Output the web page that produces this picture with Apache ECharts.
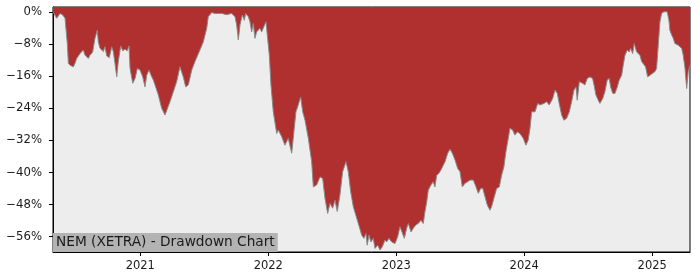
<!DOCTYPE html>
<html>
<head>
<meta charset="utf-8">
<script src="https://cdn.jsdelivr.net/npm/echarts@6/dist/echarts.min.js"></script>
<style>
html,body{margin:0;padding:0;background:#ffffff;}
#chart{width:700px;height:280px;}
</style>
</head>
<body>
<div id="chart"></div>
<script>
// Dates as decimal years
const dates = [
2020.318,2020.347,2020.373,2020.394,2020.412,2020.430,2020.438,2020.451,2020.477,2020.490,
2020.503,2020.529,2020.555,2020.568,2020.594,2020.607,2020.628,2020.646,2020.664,2020.672,
2020.685,2020.711,2020.724,2020.738,2020.758,2020.777,2020.789,2020.802,2020.816,2020.828,
2020.847,2020.863,2020.880,2020.898,2020.912,2020.920,2020.941,2020.959,2020.977,2020.998,
2021.019,2021.037,2021.050,2021.068,2021.084,2021.102,2021.115,2021.141,2021.167,2021.193,
2021.206,2021.232,2021.258,2021.284,2021.310,2021.323,2021.336,2021.355,2021.375,2021.402,
2021.427,2021.466,2021.492,2021.519,2021.531,2021.558,2021.584,2021.636,2021.675,2021.714,
2021.740,2021.753,2021.766,2021.779,2021.797,2021.813,2021.823,2021.844,2021.857,2021.870,
2021.883,2021.896,2021.909,2021.935,2021.948,2021.961,2021.982,2021.992,2022.008,2022.021,
2022.039,2022.066,2022.078,2022.105,2022.130,2022.156,2022.183,2022.195,2022.216,2022.234,
2022.253,2022.269,2022.287,2022.313,2022.339,2022.352,2022.378,2022.404,2022.425,2022.443,
2022.464,2022.482,2022.503,2022.521,2022.539,2022.560,2022.581,2022.607,2022.625,2022.644,
2022.664,2022.691,2022.711,2022.730,2022.748,2022.763,2022.773,2022.787,2022.802,2022.820,
2022.834,2022.855,2022.873,2022.891,2022.912,2022.925,2022.943,2022.964,2022.990,2023.011,
2023.029,2023.042,2023.063,2023.081,2023.094,2023.115,2023.133,2023.152,2023.172,2023.193,
2023.211,2023.224,2023.238,2023.250,2023.271,2023.289,2023.302,2023.316,2023.334,2023.355,
2023.381,2023.402,2023.420,2023.438,2023.459,2023.480,2023.498,2023.516,2023.537,2023.558,
2023.576,2023.602,2023.623,2023.641,2023.659,2023.675,2023.693,2023.711,2023.732,2023.745,
2023.763,2023.784,2023.805,2023.823,2023.841,2023.857,2023.875,2023.888,2023.909,2023.927,
2023.945,2023.966,2023.992,2024.013,2024.031,2024.045,2024.058,2024.070,2024.084,2024.105,
2024.123,2024.136,2024.154,2024.175,2024.195,2024.206,2024.222,2024.240,2024.258,2024.273,
2024.292,2024.310,2024.331,2024.352,2024.370,2024.388,2024.404,2024.414,2024.430,2024.456,
2024.474,2024.492,2024.513,2024.534,2024.545,2024.560,2024.578,2024.591,2024.613,2024.630,
2024.648,2024.664,2024.675,2024.691,2024.709,2024.727,2024.742,2024.761,2024.773,2024.787,
2024.805,2024.820,2024.831,2024.847,2024.859,2024.878,2024.891,2024.904,2024.917,2024.930,
2024.948,2024.964,2024.982,2025.003,2025.021,2025.034,2025.047,2025.060,2025.073,2025.091,
2025.117,2025.130,2025.138,2025.152,2025.164,2025.177,2025.191,2025.203,2025.216,2025.230,
2025.242,2025.256,2025.269,2025.281,2025.295
];
// Drawdown in percent
const drawdown = [
0,-1.6,-0.4,-0.8,-1.6,-8,-12.8,-13.3,-13.7,-12.8,
-11.6,-10.4,-9.5,-10.8,-11.6,-10.8,-10,-6.6,-4.6,-7.5,
-9.1,-9.9,-8.7,-11,-11.4,-8.7,-9.9,-12.8,-16.2,-12.4,
-8.5,-9.7,-9.3,-9.7,-8.5,-14.1,-17.8,-16.6,-14.1,-14.5,
-16.2,-18.7,-15.8,-14.5,-15.8,-17,-18.2,-20.7,-24,-25.7,
-25.3,-22.4,-19.9,-17.4,-13.7,-13.3,-16.2,-18.7,-18.2,-14.5,
-12.4,-9.5,-7.5,-4.1,-1.2,-0.2,-0.4,-0.4,-0.7,-0.4,
-1.2,-3.3,-7,-3.3,-0.8,-2.1,-0.4,-1.2,-2.5,-5,
-2.9,-6.6,-5,-4.1,-5,-4.6,-2.5,-2.1,-10.8,-18.2,
-24.9,-30.3,-29.4,-31.1,-33.2,-31.5,-35.2,-31.5,-24.9,-23.2,
-21.2,-24.9,-27,-31.5,-37.3,-43.6,-43.1,-41.1,-41.5,-46.4,
-50.2,-47.7,-48.9,-46.9,-49.7,-45.6,-39.8,-37.3,-39.8,-44.8,
-48.5,-51.4,-53.5,-55.6,-56.4,-55.2,-58.1,-55.6,-57.3,-56.4,
-58.9,-58.1,-59.3,-58.5,-56.8,-57.3,-56.4,-57.3,-57.7,-56,
-53.5,-53.1,-56.4,-53.9,-52.7,-54.8,-53.9,-53.1,-52.7,-51.9,
-52.7,-49.8,-47.3,-44.4,-43.1,-42.3,-43.6,-40.7,-40.2,-39,
-37.3,-35.2,-34.2,-35.2,-36.9,-39,-39.8,-43.6,-42.7,-42.3,
-41.9,-41.9,-43.6,-45.2,-44,-43.9,-46,-48.1,-49.4,-48.5,
-46.4,-44,-43.6,-40.7,-38.6,-34.8,-31.5,-29,-29.4,-30.7,
-29.9,-30.3,-31.5,-33.2,-31.9,-29,-24.9,-24.5,-24.9,-22.8,
-23.2,-23.6,-22.8,-22.4,-23.2,-23.6,-21.6,-19.5,-20.3,-22.8,
-25.7,-27,-26.5,-24.9,-22.4,-19.5,-18.7,-22,-17.4,-17.8,
-18.2,-16.6,-16.2,-16.6,-18.2,-20.7,-22,-22.8,-21.6,-19.9,
-17,-16.6,-18.7,-20.3,-20.3,-18.7,-17,-15.8,-13.3,-10.8,
-9.5,-10,-9.1,-10.4,-7.9,-10,-10.4,-10.8,-12.4,-12.8,
-13.7,-16.2,-15.8,-15.3,-14.9,-14.1,-8.3,-2.5,-0.4,0,
0,-2.1,-4.6,-5.8,-6.6,-7.9,-7.5,-8.3,-7.9,-9.1,
-10.8,-14.1,-19.1,-14.9,-13.3
];
const yTicks = [0,-8,-16,-24,-32,-40,-48,-56];
const xTickYears = [2021,2022,2023,2024,2025];
const titleText = 'NEM (XETRA) - Drawdown Chart';

const chart = echarts.init(document.getElementById('chart'), null, {renderer:'canvas'});
const font = 'DejaVu Sans';

chart.setOption({
  animation: false,
  backgroundColor: '#ffffff',
  title: {
    text: titleText,
    left: 53, top: 233,
    backgroundColor: '#b3b3b3',
    padding: [2, 3, 2, 3],
    textStyle: {fontFamily: font, fontSize: 13.7, fontWeight: 'normal', color: '#1a1a1a', lineHeight: 15}
  },
  grid: {
    left: 53, right: 10, top: 7, bottom: 28,
    show: true, backgroundColor: '#EDEDED', borderColor: '#000', borderWidth: 1
  },
  xAxis: {
    type: 'value',
    min: dates[0], max: dates[dates.length-1],
    axisLine: {show: true, onZero: false, lineStyle: {color: '#000', width: 1}},
    axisTick: {show: true, length: 4, lineStyle: {color: '#000'}, customValues: xTickYears},
    axisLabel: {
      customValues: xTickYears, margin: 8,
      fontFamily: font, fontSize: 11.5, color: '#1a1a1a',
      formatter: v => String(Math.round(v))
    },
    splitLine: {show: false}
  },
  yAxis: {
    type: 'value', min: -59.8, max: 1.2,
    axisLine: {show: true, lineStyle: {color: '#000', width: 1}},
    axisTick: {show: true, length: 4, lineStyle: {color: '#000'}, customValues: yTicks},
    axisLabel: {
      customValues: yTicks, margin: 11,
      fontFamily: font, fontSize: 11.7, color: '#1a1a1a',
      formatter: v => (v < 0 ? '\u2212' : '') + Math.abs(v) + '%'
    },
    splitLine: {show: false}
  },
  series: [{
    type: 'line',
    data: dates.map((d,i) => [d, drawdown[i]]),
    symbol: 'none', showSymbol: false,
    lineStyle: {color: '#8a8a8a', width: 1},
    areaStyle: {color: '#B03030', opacity: 1, origin: 'end'}
  }]
});
</script>
</body>
</html>
